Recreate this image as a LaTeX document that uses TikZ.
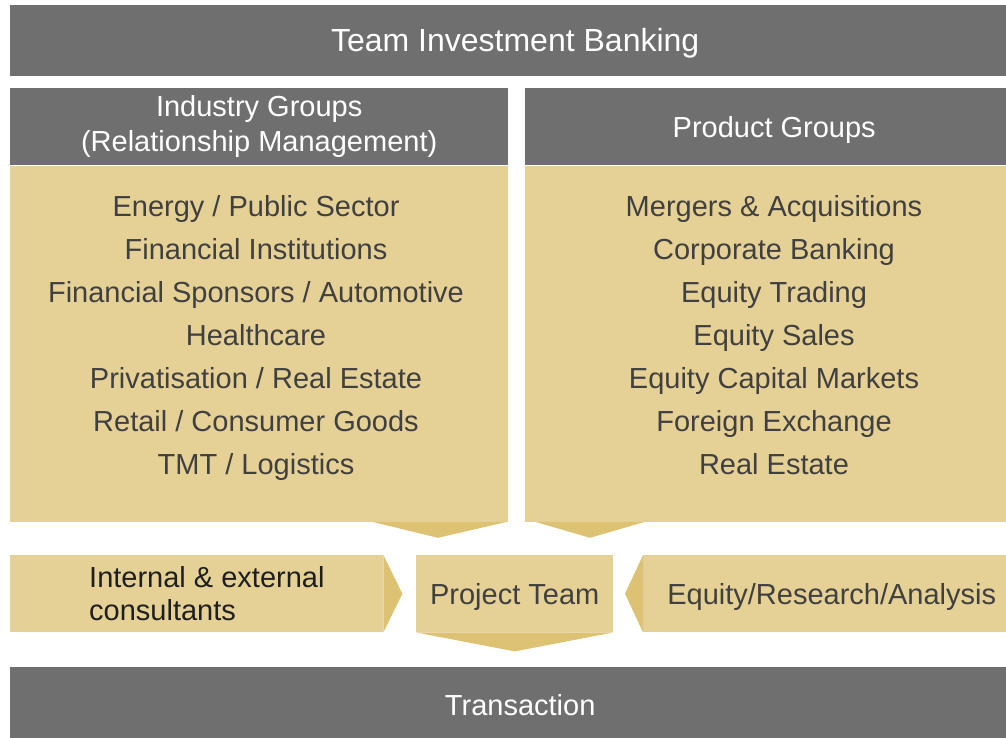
\documentclass[tikz,border=0pt]{standalone}
\usepackage{fontspec}
\setmainfont{Liberation Sans}
\usetikzlibrary{positioning,calc}
\definecolor{bargray}{HTML}{6F6F6F}
\definecolor{sand}{HTML}{E5D196}
\definecolor{darksand}{HTML}{DEC273}
\definecolor{inkgray}{HTML}{404040}

\begin{document}
\begin{tikzpicture}[x=1pt, y=-1pt,
				graybar/.style={rectangle, fill=bargray, text=white, inner sep=0pt, anchor=north west, align=center, font=\fontsize{29}{35}\selectfont},
				sandbox/.style={rectangle, fill=sand, text=inkgray, inner sep=0pt, anchor=north west, font=\fontsize{29}{35}\selectfont},
				oneline/.style={text height=24pt, text depth=2pt},
				listing/.style={rectangle, align=center, text=inkgray, font=\fontsize{29}{43}\selectfont},
				sandtip/.style={fill=darksand}
			]
			\useasboundingbox (0,0) rectangle (1006,737);
			\node[graybar, oneline, minimum width=1010pt, minimum height=71pt, font=\fontsize{32}{38}\selectfont] (banking) at (10,5) {Team Investment Banking};
			\node[graybar, minimum width=498pt, minimum height=77pt] (industry) at (10,88) {Industry Groups\\(Relationship Management)};
			\node[graybar, oneline, minimum width=498pt, minimum height=77pt] (product) at (525,88) {Product Groups};
			\node[sandbox, minimum width=498pt, minimum height=356pt] (industrypanel) [below=0pt of industry.south west, anchor=north west] {};
			\node[sandbox, minimum width=498pt, minimum height=356pt] (productpanel) [below=0pt of product.south west, anchor=north west] {};
			\node[listing] (industrylist) at (256,338) {Energy / Public Sector\\Financial Institutions\\Financial Sponsors / Automotive\\Healthcare\\Privatisation / Real Estate\\Retail / Consumer Goods\\TMT / Logistics};
			\node[listing] (productlist) at (774,335) {Mergers \& Acquisitions\\Corporate Banking\\Equity Trading\\Equity Sales\\Equity Capital Markets\\Foreign Exchange\\Real Estate};
			\node[sandbox, minimum width=373pt, minimum height=77pt] (consultants) at (10,555) {};
			\node[anchor=west, align=left, text=black!88, font=\fontsize{29}{33}\selectfont, inner sep=0pt] (consultantstext) at (89,594) {Internal \& external\\consultants};
			\node[sandbox, oneline, minimum width=197pt, minimum height=77pt] (project) at (416,555) {Project Team};
			\node[sandbox, oneline, minimum width=377pt, minimum height=77pt] (research) at (643,555) {Equity/Research/Analysis};
			\node[graybar, oneline, minimum width=1020pt, minimum height=75pt] (transaction) at (10,667) {Transaction};
			% arrow heads
			\fill[sandtip] ($(industrypanel.south west)+(362,0)$) -- ($(industrypanel.south west)+(497,0)$) -- ($(industrypanel.south west)+(428,16)$) -- cycle;
			\fill[sandtip] ($(productpanel.south west)+(10,0)$) -- ($(productpanel.south west)+(120,0)$) -- ($(productpanel.south west)+(65,16)$) -- cycle;
			\fill[sandtip] (consultants.north east) -- (consultants.south east) -- ($(consultants.east)+(19,0)$) -- cycle;
			\fill[sandtip] (research.north west) -- (research.south west) -- ($(research.west)+(-18,0)$) -- cycle;
			\fill[sandtip] (project.south west) -- (project.south east) -- ($(project.south)+(0,19)$) -- cycle;
			\end{tikzpicture}
\end{document}
